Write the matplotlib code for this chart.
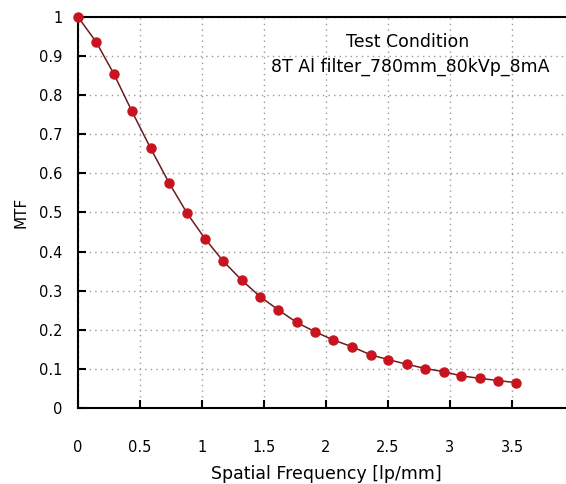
import matplotlib
matplotlib.use("Agg")
import matplotlib.pyplot as plt

freq = [0, 0.145, 0.29, 0.433, 0.586, 0.734, 0.88, 1.024, 1.17, 1.32, 1.468, 1.615,
        1.763, 1.911, 2.059, 2.207, 2.36, 2.50, 2.65, 2.80, 2.95, 3.09, 3.24, 3.39, 3.53]
mtf = [1.0, 0.937, 0.854, 0.760, 0.664, 0.576, 0.498, 0.433, 0.376, 0.327, 0.285, 0.251,
       0.219, 0.195, 0.174, 0.157, 0.136, 0.124, 0.112, 0.101, 0.093, 0.082, 0.076, 0.070, 0.065]
xticks = [0, 0.5, 1, 1.5, 2, 2.5, 3, 3.5, 4]
xticklabels = ["0", "0.5", "1", "1.5", "2", "2.5", "3", "3.5", "4"]
yticks = [0, 0.1, 0.2, 0.3, 0.4, 0.5, 0.6, 0.7, 0.8, 0.9, 1]
yticklabels = ["0", "0.1", "0.2", "0.3", "0.4", "0.5", "0.6", "0.7", "0.8", "0.9", "1"]

plt.rcParams['font.family'] = ['DejaVu Sans']

W, H = 566, 484
fig = plt.figure(figsize=(W / 100, H / 100), dpi=100)
left, right, top, bottom = 78, 574, 17, 408
ax = fig.add_axes([left / W, 1 - bottom / H, (right - left) / W, (bottom - top) / H])

ax.plot(freq, mtf, color='#6b1c1c', lw=1.1, marker='o', markersize=6.5,
        markerfacecolor='#c8141e', markeredgecolor='#c8141e', clip_on=False, zorder=3)

ax.set_xlim(0, 4)
ax.set_ylim(0, 1)
ax.set_xticks(xticks)
ax.set_xticklabels(xticklabels)
ax.set_yticks(yticks)
ax.set_yticklabels(yticklabels)
ax.grid(True, linestyle=(0, (1, 3)), color='#9a9a9a', lw=1.0)
ax.set_axisbelow(True)
ax.tick_params(direction='in', length=6, width=1.5, labelsize=10.5, colors='black')
ax.tick_params(axis='x', pad=23)
ax.tick_params(axis='y', pad=11)
for s in ax.spines.values():
    s.set_linewidth(1.5)
    s.set_color('black')

ax.set_xlabel("Spatial Frequency [lp/mm]", fontsize=12.5, labelpad=7)
ax.set_ylabel("MTF", fontsize=11, labelpad=8)

fig.text(408 / W, 1 - 42 / H, "Test Condition", ha='center', va='center', fontsize=12.5)
fig.text(410 / W, 1 - 67 / H, "8T Al filter_780mm_80kVp_8mA", ha='center', va='center', fontsize=12.5)

fig.savefig("out.png", dpi=100)
